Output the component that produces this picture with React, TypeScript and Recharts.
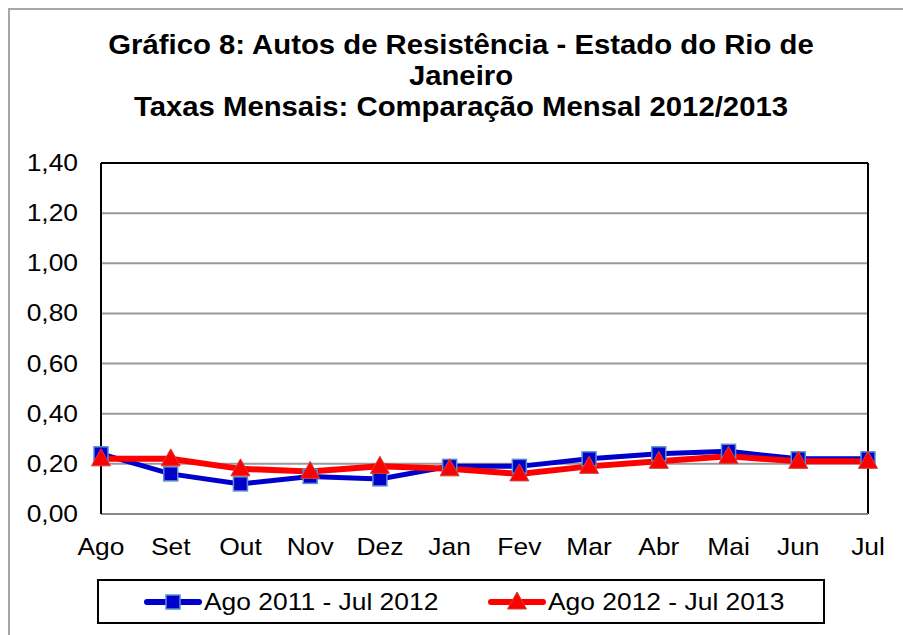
import { CartesianGrid, LineChart, Line, ReferenceLine, XAxis, YAxis } from 'recharts';

const months = ['Ago', 'Set', 'Out', 'Nov', 'Dez', 'Jan', 'Fev', 'Mar', 'Abr', 'Mai', 'Jun', 'Jul'];
const serie2011 = [0.24, 0.16, 0.12, 0.15, 0.14, 0.19, 0.19, 0.22, 0.24, 0.25, 0.22, 0.22];
const serie2012 = [0.22, 0.22, 0.18, 0.17, 0.19, 0.18, 0.16, 0.19, 0.21, 0.23, 0.21, 0.21];
const yTicks = [0, 0.2, 0.4, 0.6, 0.8, 1.0, 1.2, 1.4];

const NAME_2011 = 'Ago 2011 - Jul 2012';
const NAME_2012 = 'Ago 2012 - Jul 2013';

const BLUE = '#0000cc';
const RED = '#ff0000';
const FONT = '"Liberation Sans", Arial, sans-serif';

const data = months.map((m, i) => ({ mes: m, a: serie2011[i], b: serie2012[i] }));

const fmt = (v: number) => v.toFixed(2).replace('.', ',');

function XTick({ x, y, payload }: any) {
  return (
    <text
      transform={`translate(${x},${y + 41}) scale(1.1,1)`}
      textAnchor="middle"
      fontSize={24}
      fontFamily={FONT}
      fill="#000"
    >
      {payload.value}
    </text>
  );
}

function YTick({ x, y, payload }: any) {
  return (
    <text
      transform={`translate(${x},${y + 8}) scale(1.1,1)`}
      textAnchor="end"
      fontSize={24}
      fontFamily={FONT}
      fill="#000"
    >
      {fmt(payload.value)}
    </text>
  );
}

function SquareDot({ cx, cy, index }: any) {
  return <rect key={`s${index}`} x={cx - 7} y={cy - 7} width={14} height={14} fill={BLUE} stroke="#5b8fd0" strokeWidth={1.5} />;
}

function TriangleDot({ cx, cy, index }: any) {
  return (
    <polygon
      key={`t${index}`}
      points={`${cx},${cy - 10} ${cx + 9.5},${cy + 7} ${cx - 9.5},${cy + 7}`}
      fill={RED}
      stroke="#d04040"
      strokeWidth={1}
    />
  );
}

function LegendItem({ color, name, marker }: { color: string; name: string; marker: 'square' | 'triangle' }) {
  return (
    <div style={{ display: 'flex', alignItems: 'center' }}>
      <svg width={58} height={24} style={{ display: 'block' }}>
        <line x1={3} y1={12} x2={55} y2={12} stroke={color} strokeWidth={6} strokeLinecap="round" />
        {marker === 'square' ? (
          <rect x={22} y={5} width={14} height={14} fill={BLUE} stroke="#5b8fd0" strokeWidth={1.5} />
        ) : (
          <polygon points="29,2 38.5,19 19.5,19" fill={RED} stroke="#d04040" strokeWidth={1} />
        )}
      </svg>
      <span
        style={{
          display: 'inline-block',
          fontSize: 24,
          transform: 'scaleX(1.1)',
          transformOrigin: 'left center',
          whiteSpace: 'nowrap',
          marginLeft: 2,
        }}
      >
        {name}
      </span>
    </div>
  );
}

export default function App() {
  return (
    <div
      style={{
        position: 'absolute',
        left: 0,
        top: 0,
        width: 903,
        height: 635,
        overflow: 'hidden',
        background: '#fff',
        fontFamily: FONT,
      }}
    >
      <div
        style={{
          position: 'absolute',
          left: 8,
          top: 8,
          width: 1000,
          height: 1000,
          border: '2px solid #a6a6a6',
        }}
      />
      <div
        style={{
          position: 'absolute',
          left: 0,
          top: 30,
          width: 922,
          textAlign: 'center',
          fontSize: 27,
          fontWeight: 'bold',
          lineHeight: '31px',
          transform: 'scaleX(1.085)',
          transformOrigin: '461px 0',
        }}
      >
        Gráfico 8: Autos de Resistência - Estado do Rio de
        <br />
        Janeiro
        <br />
        Taxas Mensais: Comparação Mensal 2012/2013
      </div>
      <div style={{ position: 'absolute', left: 0, top: 0 }}>
        <LineChart width={903} height={635} data={data} margin={{ top: 163, right: 35, bottom: 61, left: 0 }}>
          <CartesianGrid horizontal vertical={false} stroke="#999" strokeWidth={2} />
          <XAxis
            dataKey="mes"
            height={60}
            axisLine={{ stroke: '#888', strokeWidth: 2 }}
            tickLine={false}
            tickSize={0}
            tickMargin={0}
            tick={<XTick />}
            interval={0}
          />
          <YAxis
            width={101}
            domain={[0, 1.4]}
            ticks={yTicks}
            axisLine={{ stroke: '#000', strokeWidth: 2 }}
            tickLine={false}
            tickSize={0}
            tickMargin={23}
            tick={<YTick />}
            interval={0}
          />
          <ReferenceLine y={1.4} stroke="#000" strokeWidth={2} />
          <ReferenceLine x="Jul" stroke="#000" strokeWidth={2} />
          <Line
            type="linear"
            dataKey="a"
            name={NAME_2011}
            stroke={BLUE}
            strokeWidth={5}
            dot={SquareDot}
            isAnimationActive={false}
          />
          <Line
            type="linear"
            dataKey="b"
            name={NAME_2012}
            stroke={RED}
            strokeWidth={6}
            dot={TriangleDot}
            isAnimationActive={false}
          />
        </LineChart>
      </div>
      <div
        style={{
          position: 'absolute',
          left: 97,
          top: 579,
          width: 724,
          height: 41,
          border: '2px solid #000',
          display: 'flex',
          alignItems: 'center',
        }}
      >
        <div style={{ position: 'absolute', left: 45 }}>
          <LegendItem color={BLUE} name={NAME_2011} marker="square" />
        </div>
        <div style={{ position: 'absolute', left: 389 }}>
          <LegendItem color={RED} name={NAME_2012} marker="triangle" />
        </div>
      </div>
    </div>
  );
}
